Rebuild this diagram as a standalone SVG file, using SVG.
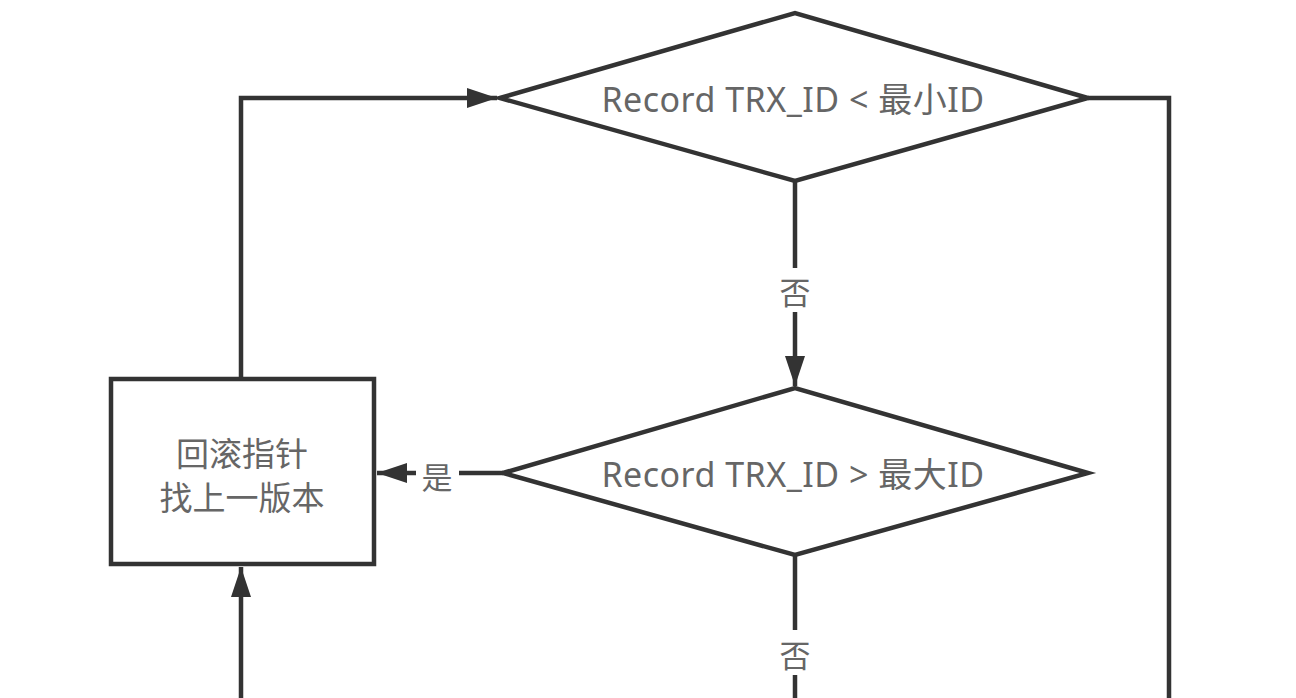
<svg xmlns="http://www.w3.org/2000/svg" width="1296" height="698" viewBox="0 0 1296 698">
<style>
.shape{fill:#fff;stroke:#333;stroke-width:4.5;stroke-linejoin:miter}
.line{fill:none;stroke:#333;stroke-width:4.5}
.t{font-family:"Noto Sans","Noto Sans CJK SC",sans-serif;fill:#666;text-anchor:middle;dominant-baseline:central}
.lbl{font-family:"Noto Sans CJK SC","Noto Sans",sans-serif;fill:#666;text-anchor:middle;dominant-baseline:central;font-size:31px}
</style>
<defs>
<marker id="arr" viewBox="0 0 30 20" refX="30" refY="10" markerWidth="30" markerHeight="20" markerUnits="userSpaceOnUse" orient="auto">
<path d="M0,0 L30,10 L0,20 Z" fill="#333"/>
</marker>
</defs>
<rect width="1296" height="698" fill="#fff"/>
<g id="connectors">
<path class="line" d="M241,379 V98 H497" marker-end="url(#arr)"/>
<path class="line" d="M1088,98 H1169 V698"/>
<path class="line" d="M795,181 V268"/>
<path class="line" d="M795,312 V386" marker-end="url(#arr)"/>
<text class="lbl" x="795" y="290">否</text>
<path class="line" d="M503,473 H459"/>
<path class="line" d="M416,473 H377" marker-end="url(#arr)"/>
<text class="lbl" x="437" y="475">是</text>
<path class="line" d="M795,555 V630"/>
<path class="line" d="M795,675 V698"/>
<text class="lbl" x="795" y="653">否</text>
<path class="line" d="M241,698 V567" marker-end="url(#arr)"/>
</g>
<g id="d1">
<polygon class="shape" points="500,98 795,13 1088,98 795,181"/>
<text class="t" x="793" y="99" font-size="34" letter-spacing="0.5">Record TRX_ID &lt; 最小ID</text>
</g>
<g id="d2">
<polygon class="shape" points="503,473 795,388 1088,473 795,555"/>
<text class="t" x="793" y="474" font-size="34" letter-spacing="0.5">Record TRX_ID &gt; 最大ID</text>
</g>
<g id="box">
<rect class="shape" x="111" y="379" width="263" height="185"/>
<text class="t" x="242" y="453" font-size="33" font-family="Noto Sans CJK SC">回滚指针</text>
<text class="t" x="242" y="497" font-size="33" font-family="Noto Sans CJK SC">找上一版本</text>
</g>
</svg>
